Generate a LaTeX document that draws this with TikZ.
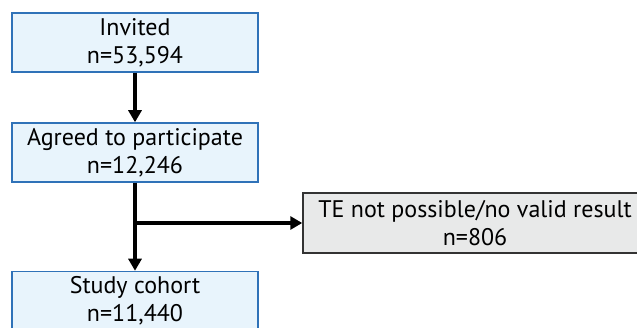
\documentclass[tikz,border=0pt]{standalone}
\usepackage{fontspec}
\setmainfont{PT Sans}
\usetikzlibrary{positioning,arrows.meta}
\definecolor{boxblue}{HTML}{E8F4FC}
\definecolor{edgeblue}{HTML}{2F72B8}
\definecolor{boxgray}{HTML}{E8E9E9}
\definecolor{edgegray}{HTML}{333333}

\tikzset{
	stagebox/.style={draw=edgeblue, fill=boxblue, line width=1.5pt, minimum width=246pt, minimum height=59pt, align=center, inner sep=0pt, font=\fontsize{24}{28}\selectfont},
	dropbox/.style={draw=edgegray, fill=boxgray, line width=1.5pt, minimum width=344pt, minimum height=60pt, align=center, inner sep=0pt, font=\fontsize{24}{28}\selectfont},
	flow/.style={line width=3.5pt, -{Triangle[length=12pt,width=13pt]}}
}

\begin{document}
\begin{tikzpicture}[x=1pt,y=1pt]
				\useasboundingbox (0,0) rectangle (637,-328);
				\node[stagebox] (invited) at (135,-42.5) {Invited\\n=53,594};
				\node[stagebox] (agreed) at (135,-152.5) {Agreed to participate\\n=12,246};
				\node[stagebox] (cohort) at (135,-301) {Study cohort\\n=11,440};
				\node[dropbox] (excluded) at (475,-223) {TE not possible/no valid result\\n=806};
				\coordinate (split) at (135,-223);
				\draw[flow] (invited) -- (agreed);
				\draw[flow] (agreed) -- (cohort);
				\draw[flow] (split) -- (excluded);
			\end{tikzpicture}
\end{document}
